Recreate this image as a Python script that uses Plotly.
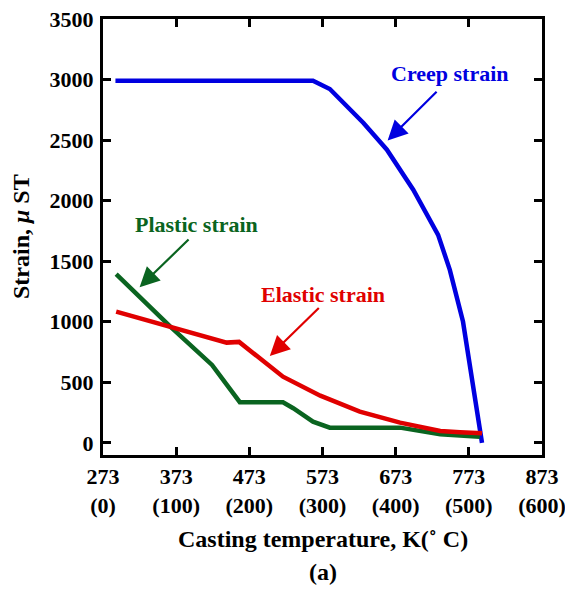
import plotly.graph_objects as go

# Casting temperature (K) and strain components (micro-strain)
creep_x = [290, 560, 583, 629, 661, 697, 731, 747, 765, 791]
creep_y = [2990, 2990, 2922, 2641, 2421, 2090, 1718, 1429, 1002, 0]

plastic_x = [291, 365, 422, 460, 519, 533, 560, 583, 679, 734, 788]
plastic_y = [1393, 960, 644, 336, 336, 286, 175, 126, 126, 71, 51]

elastic_x = [291, 365, 419, 442, 459, 519, 570, 624, 679, 734, 761, 791]
elastic_y = [1084, 960, 864, 828, 834, 547, 390, 258, 167, 98, 88, 79]

x_tick_vals = [273, 373, 473, 573, 673, 773, 873]
x_tick_text = ["273<br>(0)", "373<br>(100)", "473<br>(200)", "573<br>(300)",
               "673<br>(400)", "773<br>(500)", "873<br>(600)"]
y_tick_vals = [0, 500, 1000, 1500, 2000, 2500, 3000, 3500]

BLUE = "#0000e0"
GREEN = "#0a6420"
RED = "#e00000"
SERIF = "Liberation Serif"

fig = go.Figure()
for xs, ys, col in [(creep_x, creep_y, BLUE), (plastic_x, plastic_y, GREEN),
                    (elastic_x, elastic_y, RED)]:
    fig.add_trace(go.Scatter(x=xs, y=ys, mode="lines",
                             line=dict(color=col, width=4.5), showlegend=False))

axis_common = dict(showline=True, linecolor="black", linewidth=3, mirror="ticks",
                   ticks="inside", ticklen=8, tickwidth=3, tickcolor="black",
                   showgrid=False, zeroline=False, automargin=False,
                   ticklabeloverflow="allow",
                   tickfont=dict(family=SERIF, size=22, color="black", weight="bold"))

fig.update_xaxes(range=[273, 873], tickvals=x_tick_vals, ticktext=x_tick_text,
                 ticklabelstandoff=0, **axis_common)
fig.update_yaxes(range=[-100, 3500], tickvals=y_tick_vals,
                 ticklabelstandoff=2, **axis_common)

# series labels with pointer arrows
labels = [
    ("Creep strain", BLUE, 747, 3049, 731, 2911, 662, 2497),
    ("Plastic strain", GREEN, 401, 1801, 392, 1691, 323, 1286),
    ("Elastic strain", RED, 574, 1222, 570, 1126, 501, 718),
]
for text, col, tx, ty, ax_, ay_, hx, hy in labels:
    fig.add_annotation(x=tx, y=ty, text=text, showarrow=False,
                       font=dict(family=SERIF, size=22, color=col, weight="bold"))
    fig.add_annotation(x=hx, y=hy, ax=ax_, ay=ay_, axref="x", ayref="y",
                       text="", showarrow=True, arrowhead=2, arrowsize=1.8,
                       arrowwidth=2.2, arrowcolor=col, standoff=0, startstandoff=0)

title_font = dict(family=SERIF, size=24, color="black", weight="bold")
fig.add_annotation(xref="paper", yref="paper", x=0.5, y=0, yshift=-84,
                   text="Casting temperature, K(˚ C)", showarrow=False,
                   font=title_font, yanchor="middle")
fig.add_annotation(xref="paper", yref="paper", x=0.5, y=0, yshift=-117,
                   text="(a)", showarrow=False, font=title_font, yanchor="middle")
fig.add_annotation(xref="paper", yref="paper", x=0, y=0.5, xshift=-82,
                   text="Strain, <i>μ</i> ST", showarrow=False, textangle=-90,
                   font=title_font, xanchor="center", yanchor="middle")

fig.update_layout(width=565, height=594,
                  margin=dict(l=103, r=23, t=19, b=139, pad=0),
                  plot_bgcolor="white", paper_bgcolor="white")

fig.write_html("out.html")
